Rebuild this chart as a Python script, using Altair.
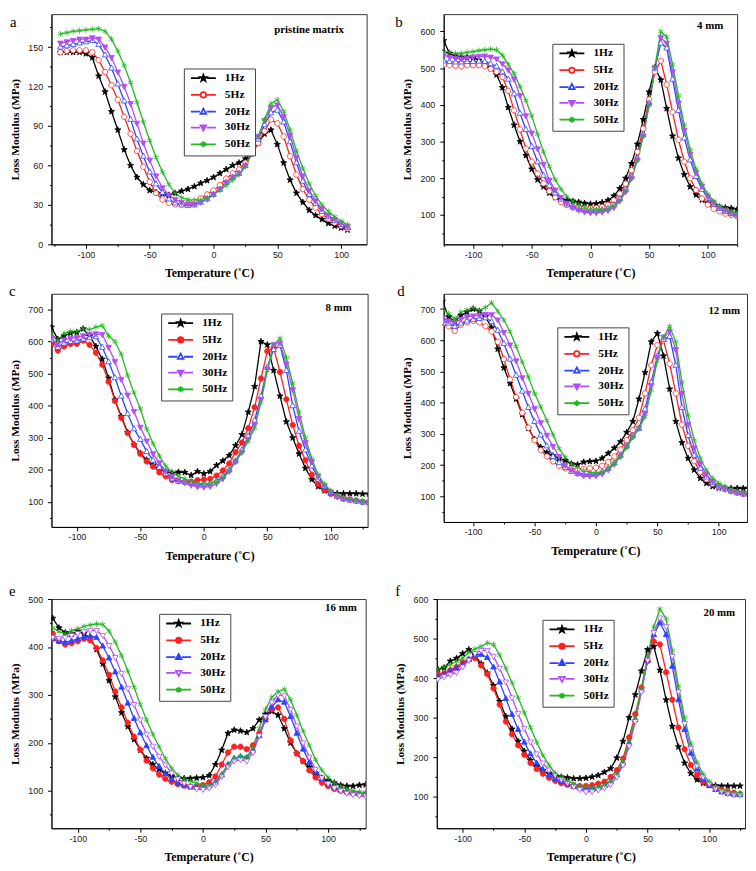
import altair as alt
import pandas as pd

SERIES = ["1Hz", "5Hz", "20Hz", "30Hz", "50Hz"]
COLORS = ["#000000", "#ff2020", "#2b44ff", "#b24ef2", "#22b822"]

# ---------------- data (Loss modulus, MPa) ----------------
T_A = list(range(-120, 106, 5))
A1 = [146,146,146,146,145,142,128,116,101,87, 72,60,51,45.5,41,39.5,38.5,37.5,39,40.5,
      42,44,46.5,48.5,51,54,57,60,62,65, 70,77,84,87,76,62,49,39,32,26, 22,19,16,14,12.5,11]
A5 = [146,147,147.5,147.5,147.5,146,140,131,121,110, 97,84,71,59,47.5,39,34,31.5,30.5,30.5,
      31,32.5,35,38,41,45,50,54,57,62, 69,77,86,95,92,82,67,53,42,34, 28,23,19.5,16.5,14,12]
A20 = [150,151,152,153,154,155,152,144,134,122, 109,95,80,67,55,46,39.5,34.5,31.5,30,
       29.5,30,32,34.5,38,42,47,51,54,60, 69,80,91,100,102,93,78,62,48,38, 31,25,21,18,15,13]
A30 = [153,154,155,156,156,157,156,150,142,131, 120,107,92,77,64,52,43,37.5,34,32,
       30.5,30.5,32,34.5,38,42,47,51,54,60, 70,82,94,104,106,97,83,66,52,41, 33,27,22,19,16,13.5]
A50 = [160,161,162,162.5,163,163.5,164,162,156,147, 136,123,108,93,79,66,55,45.5,39,35.5,
       34,33.5,34,35.5,38,41,45,49,53,59, 69,82,95,107,110,101,87,71,58,46, 37,30,25,21,17.5,15]

T_B = list(range(-125, 126, 5))
B1 = [575,540,533,530,530,528,522,513,500,482, 447,393,345,300,262,225,196,177,160,148,
      142,140,138,135,132,130,131,134,140,152, 172,200,240,293,360,435,502,468,390,315,
      255,210,177,155,141,132,126,122,120,118, 115]
B5 = [510,508,507,505,508,508,508,505,498,490, 476,438,385,333,281,245,213,186,165,148,
      135,127,122,119,118,118,119,122,128,140, 158,185,222,272,335,415,490,520,455,380,
      305,245,200,168,145,128,117,110,104,100, 96]
B20 = [520,518,517,517,518,518,519,518,512,505, 490,470,430,377,333,287,245,208,180,160,
       143,130,122,116,113,112,112,114,118,128, 145,170,205,255,320,405,500,568,555,470,
       385,310,250,205,170,146,130,118,110,104, 100]
B30 = [535,530,527,525,527,530,532,533,530,525, 512,495,470,425,370,323,280,238,195,168,
       148,132,120,113,108,106,106,108,112,120, 138,163,200,250,315,400,500,583,568,490,
       405,330,265,215,178,150,133,120,112,105, 100]
B50 = [545,543,540,540,543,545,548,550,552,550, 535,510,485,450,412,370,320,272,232,196,
       170,150,138,128,121,117,115,115,118,125, 140,165,200,250,315,400,505,600,585,510,
       425,345,278,225,185,157,138,125,117,110, 105]

T_C = list(range(-120, 131, 5))
C1 = [645,607,618,626,628,640,617,585,545,486, 418,366,317,279,252,231,214,203,195,190,
      193,192,183,195,188,195,214,228,245,276, 310,380,460,600,590,510,430,350,300,250,
      205,170,148,135,128,126,126,126,126,125, 125]
C5 = [595,572,585,592,593,603,590,565,528,475, 415,362,315,278,250,226,210,192,180,168,
      165,162,163,168,170,172,182,198,220,255, 285,330,395,485,570,580,505,420,340,275,
      230,185,155,137,125,117,110,107,104,100, 98]
C20 = [605,582,595,600,602,608,612,615,582,537, 487,430,375,328,295,257,230,208,188,172,
       165,162,158,155,155,157,165,180,200,228, 262,305,355,430,520,575,588,510,400,320,
       262,212,175,148,130,118,110,106,103,100, 98]
C30 = [610,592,605,610,612,618,622,624,622,582, 538,482,433,382,333,290,250,222,195,179,
       168,160,152,147,146,148,157,172,195,225, 255,295,340,420,515,590,595,530,450,360,
       285,225,180,150,130,118,110,106,103,100, 97]
C50 = [622,605,625,632,632,640,637,645,650,618, 600,560,495,440,390,328,282,243,212,192,
       180,172,165,158,157,158,163,177,198,228, 255,290,330,410,510,590,610,550,470,380,
       300,235,185,155,135,122,114,109,106,104, 102]

T_D = list(range(-125, 126, 5))
D1 = [725,675,660,680,690,700,693,675,640,572, 512,462,412,362,318,283,257,240,230,222,
      215,205,202,210,212,213,222,238,255,275, 305,340,412,497,595,622,550,444,340,272,
      222,185,158,142,132,127,126,126,126,126, 126]
D5 = [652,645,630,650,658,662,657,645,628,595, 540,475,418,368,320,280,248,228,212,198,
      190,186,186,188,190,192,198,210,228,250, 280,312,352,430,520,585,600,525,430,330,
      262,213,178,155,140,130,123,117,112,108, 105]
D20 = [665,655,645,655,662,667,670,672,660,632, 590,540,488,437,385,340,297,262,228,208,
       193,180,174,171,170,172,178,190,208,232, 262,295,318,380,465,550,603,612,520,385,
       295,232,190,162,145,133,124,117,112,108, 105]
D30 = [672,662,657,668,675,678,680,683,682,665, 625,585,534,480,430,381,336,296,260,228,
       200,184,172,166,165,166,172,185,203,228, 258,290,318,365,455,545,610,628,570,430,
       330,255,205,170,148,134,124,117,112,108, 105]
D50 = [700,685,668,690,697,704,697,705,720,693, 665,628,580,530,482,430,387,343,298,253,
       225,203,192,183,177,175,178,190,205,228, 258,290,318,355,440,535,610,645,595,465,
       360,280,222,183,158,142,132,124,118,114, 112]

T_E = list(range(-120, 131, 5))
E1 = [460,440,430,427,433,428,418,395,365,330, 296,263,234,207,185,168,155,145,137,131,
      127,126,126,127,128,132,155,185,220,227, 225,222,230,248,260,266,258,230,200,178,
      162,149,136,127,121,117,112,110,110,112, 113]
E5 = [428,412,405,408,412,417,414,398,372,342, 307,274,242,213,186,163,147,134,125,119,
      114,111,109,110,112,118,130,155,180,192, 192,187,195,220,250,270,274,250,205,178,
      162,143,128,117,110,104,100,97,95,93, 92]
E20 = [417,412,410,413,417,421,423,420,402,377, 348,316,283,251,221,194,170,151,136,124,
       116,111,108,107,107,110,118,133,155,168, 172,170,185,215,248,275,290,285,255,220,
       187,160,140,125,115,107,102,98,96,94, 93]
E30 = [420,418,420,424,428,432,434,434,424,403, 378,345,313,280,248,218,193,172,154,137,
       125,116,109,104,103,106,113,130,150,162, 165,162,180,215,255,285,300,298,270,235,
       200,170,145,127,115,106,100,95,92,90, 89]
E50 = [440,432,428,434,438,443,446,448,447,433, 410,382,350,316,280,248,218,192,167,147,
       133,125,120,116,112,112,118,135,155,168, 172,170,190,230,270,295,307,312,290,258,
       225,195,165,143,128,117,109,104,100,98, 97]

T_F = list(range(-120, 126, 5))
F1 = [422,426,443,450,462,472,458,436,413,381, 341,303,271,240,215,192,176,166,158,153,
      150,148,146,146,147,150,154,162,171,198, 240,300,358,418,472,480,420,345,278,226,
      185,159,143,134,129,128,127,127,127,127]
F5 = [410,412,420,428,440,447,451,432,410,374, 333,290,258,230,206,185,170,158,148,140,
      134,130,128,127,127,129,133,138,150,167, 196,250,309,376,443,493,485,415,345,275,
      220,180,155,138,129,122,117,113,110,107]
F20 = [405,410,418,425,435,447,458,460,452,428, 390,348,308,270,238,208,185,169,155,145,
       138,132,126,122,120,120,122,128,138,155, 185,235,295,370,445,510,540,510,430,345,
       270,210,170,145,128,118,112,108,106,105]
F30 = [397,403,409,414,428,445,462,470,470,455, 425,390,350,310,272,238,208,185,167,154,
       143,134,125,118,112,113,117,122,130,150, 180,228,290,365,445,515,552,530,455,365,
       285,222,178,150,132,120,113,108,105,104]
F50 = [422,428,434,442,451,465,474,480,489,485, 458,425,388,350,312,275,238,205,180,160,
       149,140,133,128,125,122,125,130,140,158, 190,240,300,375,455,530,575,550,470,380,
       300,235,187,157,138,126,118,113,110,108]

LETTERS = ["a", "b", "c", "d", "e", "f"]
NOTES = ["pristine matrix", "4 mm", "8 mm", "12 mm", "16 mm", "20 mm"]

# ---------------- styles ----------------
STAR = "M0,-1.2L0.28,-0.39L1.14,-0.37L0.45,0.15L0.71,0.97L0,0.48L-0.71,0.97L-0.45,0.15L-1.14,-0.37L-0.28,-0.39Z"
CIRC = "M1,0A1,1,0,1,1,-1,0A1,1,0,1,1,1,0Z"
TUP = "M0,-1.15L1.05,0.75L-1.05,0.75Z"
TDN = "M0,1.15L1.05,-0.75L-1.05,-0.75Z"
AST = "M0,-1.1V1.1M-0.95,-0.55L0.95,0.55M-0.95,0.55L0.95,-0.55"
MARKERS = [STAR, CIRC, TUP, TDN, AST]
LINESEG = "M-4.6,0H-1.25M1.25,0H4.6"
LEG_PATHS = [LINESEG + m for m in MARKERS[:4]] + ["M-4.6,0H4.6" + AST]

FONT_LAB = "Liberation Sans"
FONT_SER = "Liberation Serif"

PANELS = [
    dict(T=T_A, Y=[A1, A5, A20, A30, A50], xdom=[-127, 120], ydom=[0, 175], ystep=15, ymaj=30,
         w=319, h=233, leg=(134, 55), note=(296, 16), let=(-42, 13),
         filled=[True, False, False, True, True]),
    dict(T=T_B, Y=[B1, B5, B20, B30, B50], xdom=[-125, 125], ydom=[20, 647], ystep=50, ymaj=100,
         w=297, h=233, leg=(110, 30), note=(283, 12), let=(-49, 13),
         filled=[True, False, False, True, True]),
    dict(T=T_C, Y=[C1, C5, C20, C30, C50], xdom=[-120, 129], ydom=[22, 749], ystep=50, ymaj=100,
         w=320, h=236, leg=(111, 20), note=(304, 14), let=(-43, 2),
         filled=[True, True, False, True, True]),
    dict(T=T_D, Y=[D1, D5, D20, D30, D50], xdom=[-124, 123], ydom=[18, 749], ystep=50, ymaj=100,
         w=307, h=231, leg=(115, 34), note=(300, 17), let=(-47, 2),
         filled=[True, False, False, True, True]),
    dict(T=T_E, Y=[E1, E5, E20, E30, E50], xdom=[-121, 130], ydom=[22, 500], ystep=50, ymaj=100,
         w=318, h=232, leg=(109, 15), note=(309, 9), let=(-43, -3),
         filled=[True, True, True, False, True]),
    dict(T=T_F, Y=[F1, F5, F20, F30, F50], xdom=[-121, 129], ydom=[20, 600], ystep=50, ymaj=100,
         w=312, h=232, leg=(107, 21), note=(302, 14), let=(-42, -3),
         filled=[True, True, True, False, True]),
]

INDEP = dict(shape="independent", stroke="independent", fill="independent")


def build_panel(i, p):
    rows = []
    for s, vals, col, filled, shp in zip(SERIES, p["Y"], COLORS, p["filled"], MARKERS):
        if len(vals) != len(p["T"]):
            raise ValueError(f"panel {LETTERS[i]} series {s}: {len(vals)} vs {len(p['T'])}")
        for t, v in zip(p["T"], vals):
            rows.append({"T": t, "v": v, "series": s, "col": col,
                         "fil": col if filled else "white", "shp": shp})
    df = pd.DataFrame(rows)

    x0, x1 = p["xdom"]
    y0, y1 = p["ydom"]
    xvals = [v for v in range(-125, 126, 25) if x0 <= v <= x1]
    yvals = [v for v in range(0, 801, p["ystep"]) if y0 <= v <= y1]
    ymaj = p["ymaj"]

    xaxis = alt.Axis(
        title="Temperature (˚C)", values=xvals,
        labelExpr="datum.value % 50 === 0 ? '' + datum.value : ''",
        tickSize={"condition": {"test": "datum.value % 50 === 0", "value": 4}, "value": 2},
        labelPadding=2, titlePadding=9, titleFontSize=12, labelFlush=False, labelOverlap=False,
    )
    yaxis = alt.Axis(
        title="Loss Modulus (MPa)", values=yvals,
        labelExpr=f"datum.value % {ymaj} === 0 ? '' + datum.value : ''",
        tickSize={"condition": {"test": f"datum.value % {ymaj} === 0", "value": 4}, "value": 2},
        labelPadding=5, titlePadding=7.5, titleFontSize=11.5, labelFlush=False, labelOverlap=False,
    )
    X = alt.X("T:Q", scale=alt.Scale(domain=p["xdom"], nice=False, zero=False), axis=xaxis)
    Y = alt.Y("v:Q", scale=alt.Scale(domain=p["ydom"], nice=False, zero=False), axis=yaxis)

    base = alt.Chart(df)
    lines = base.mark_line(strokeWidth=1.3, clip=True).encode(
        x=X, y=Y, detail="series:N", stroke=alt.Stroke("col:N", scale=None))
    points = base.mark_point(size=30, strokeWidth=0.8, opacity=1, clip=True).encode(
        x=X, y=Y,
        shape=alt.Shape("shp:N", scale=None),
        stroke=alt.Stroke("col:N", scale=None),
        fill=alt.Fill("fil:N", scale=None),
    )
    leg = alt.Legend(
        title=None, orient="none", legendX=p["leg"][0], legendY=p["leg"][1],
        strokeColor="#444", fillColor="white", padding=4, rowPadding=3,
        symbolOffset=10, labelOffset=16, symbolSize=30, symbolStrokeWidth=1.8,
        labelFont=FONT_SER, labelFontWeight="bold", labelFontSize=11.5, labelColor="#000",
        cornerRadius=0,
    )
    leg_fills = [c if f else "white" for c, f in zip(COLORS, p["filled"])]
    legend_layer = base.transform_filter("false").mark_point(
        size=30, strokeWidth=1.8, opacity=1).encode(
        shape=alt.Shape("series:N", scale=alt.Scale(domain=SERIES, range=LEG_PATHS), legend=leg),
        stroke=alt.Stroke("series:N", scale=alt.Scale(domain=SERIES, range=COLORS), legend=leg),
        fill=alt.Fill("series:N", scale=alt.Scale(domain=SERIES, range=leg_fills), legend=leg),
    )
    note = alt.Chart(pd.DataFrame({"t": [NOTES[i]]})).mark_text(
        align="right", baseline="middle", font=FONT_SER, fontWeight="bold", fontSize=11,
        color="#000").encode(x=alt.value(p["note"][0]), y=alt.value(p["note"][1]), text="t:N")
    letter = alt.Chart(pd.DataFrame({"t": [LETTERS[i]]})).mark_text(
        align="left", baseline="alphabetic", font=FONT_SER, fontSize=15,
        color="#000").encode(x=alt.value(p["let"][0]), y=alt.value(p["let"][1]), text="t:N")

    return alt.layer(lines, points, legend_layer, note, letter).properties(
        width=p["w"], height=p["h"])


panels = [build_panel(i, p) for i, p in enumerate(PANELS)]


def row(c1, c2, sp):
    return alt.hconcat(c1, c2, spacing=sp, bounds="flush").resolve_scale(**INDEP).resolve_legend(**INDEP)


row1 = row(panels[0], panels[1], 78)
row2 = row(panels[2], panels[3], 77)
row3 = row(panels[4], panels[5], 72)

top = alt.vconcat(row1, row2, spacing=3).resolve_scale(**INDEP).resolve_legend(**INDEP)
chart = alt.vconcat(top, row3, spacing=21).resolve_scale(**INDEP).resolve_legend(**INDEP)

chart = chart.properties(padding=0).configure_view(
    stroke="#333", strokeWidth=1
).configure_axis(
    grid=False, domainColor="#000", tickColor="#000", labelColor="#222",
    labelFont=FONT_LAB, labelFontSize=9, titleFont=FONT_SER, titleFontWeight="bold",
    titleColor="#000",
)

chart.save("out.html", embed_options={"renderer": "svg", "actions": False})
